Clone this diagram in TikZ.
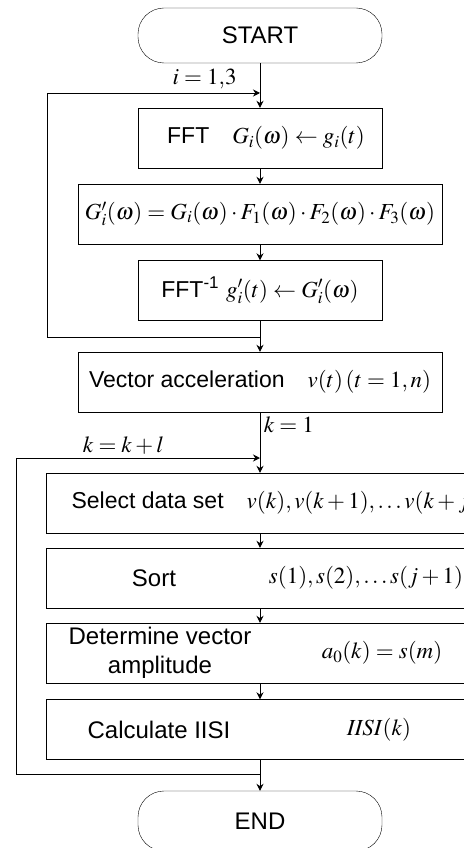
\documentclass[tikz,border=0pt]{standalone}
\usepackage{mathptmx}
\usepackage[no-math]{fontspec}
\setsansfont{Liberation Sans}
\usepackage{amsmath}
\usetikzlibrary{arrows.meta, positioning}

\begin{document}
\begin{tikzpicture}[node distance=76pt,on grid,auto,font=\fontsize{23}{26}\selectfont]
    \tikzstyle{terminal}=[shape=rectangle,draw,rounded corners=26pt,minimum width=244pt,minimum height=55pt,font=\fontsize{24}{26}\selectfont\sffamily]
    \tikzstyle{process}=[shape=rectangle,draw,minimum width=244pt,minimum height=60pt]
    \tikzstyle{wideprocess}=[process,minimum width=364pt]
    \tikzstyle{longprocess}=[process,minimum width=428pt]
    \tikzstyle{caption}=[font=\fontsize{24}{29}\selectfont\sffamily]
    \tikzstyle{flow}=[draw,line width=0.9pt,-{Stealth[length=7pt,width=7pt]}]

    \useasboundingbox (-260pt,35.5pt) rectangle (203pt,-812.5pt);

    \node[terminal] (start) {START};
    \node[process, below=102.5pt of start] (fft) {\hspace*{12pt}\textsf{FFT}\quad$G_i(\omega)\leftarrow g_i(t)$};
    \node[wideprocess, below of=fft] (gpr) {$G'_i(\omega)=G_i(\omega)\cdot F_1(\omega)\cdot F_2(\omega)\cdot F_3(\omega)$};
    \node[process, below=76.5pt of gpr] (ifft) {\textsf{FFT\textsuperscript{-1}}\ $g'_i(t)\leftarrow G'_i(\omega)$};
    \node[wideprocess, below=91.5pt of ifft] (vec) {\textsf{Vector acceleration}\quad$v(t)\,(t=1,n)$};
    \node[longprocess, below=121pt of vec] (sel) {};
    \node[longprocess, below=75pt of sel] (sort) {};
    \node[longprocess, below=75pt of sort] (det) {};
    \node[longprocess, below=76.5pt of det] (calc) {};
    \node[terminal, below=91.5pt of calc, minimum height=60pt] (end) {END};

    % box contents
    \node[anchor=west] at ([xshift=-192pt]sel.center) {\textsf{Select data set}\quad$v(k),v(k+1),\ldots v(k+j)$};
    \node[caption] at ([xshift=-106pt]sort.center) {Sort};
    \node at ([xshift=106pt]sort.center) {$s(1),s(2),\ldots s(j+1)$};
    \node[caption, align=center] at ([xshift=-100pt]det.center) {Determine vector\\amplitude};
    \node at ([xshift=122pt]det.center) {$a_0(k)=s(m)$};
    \node[caption] at ([xshift=-101pt]calc.center) {Calculate IISI};
    \node at ([xshift=119pt]calc.center) {$\mathit{IISI}(k)$};

    % junctions
    \coordinate[below=57.5pt of start] (j1);
    \coordinate[below=46.5pt of ifft] (r1);
    \coordinate[left=213pt of j1] (c1);
    \coordinate[below=76pt of vec] (j2);
    \coordinate[below=44.5pt of calc] (r2);
    \coordinate[left=244pt of j2] (c2);

    \path[flow]
    (start) edge (fft)
    (fft) edge (gpr)
    (gpr) edge (ifft)
    (ifft) edge (vec)
    (vec) edge node[pos=0.2] {$k=1$} (sel)
    (sel) edge (sort)
    (sort) edge (det)
    (det) edge (calc)
    (calc) edge (end);

    \path[flow] (r1) -| (c1) -- node[pos=0.74] {$i=1{,}3$} (j1);
    \path[flow] (r2) -| (c2) -- node[pos=0.44] {$k=k+l$} (j2);
\end{tikzpicture}
\end{document}
